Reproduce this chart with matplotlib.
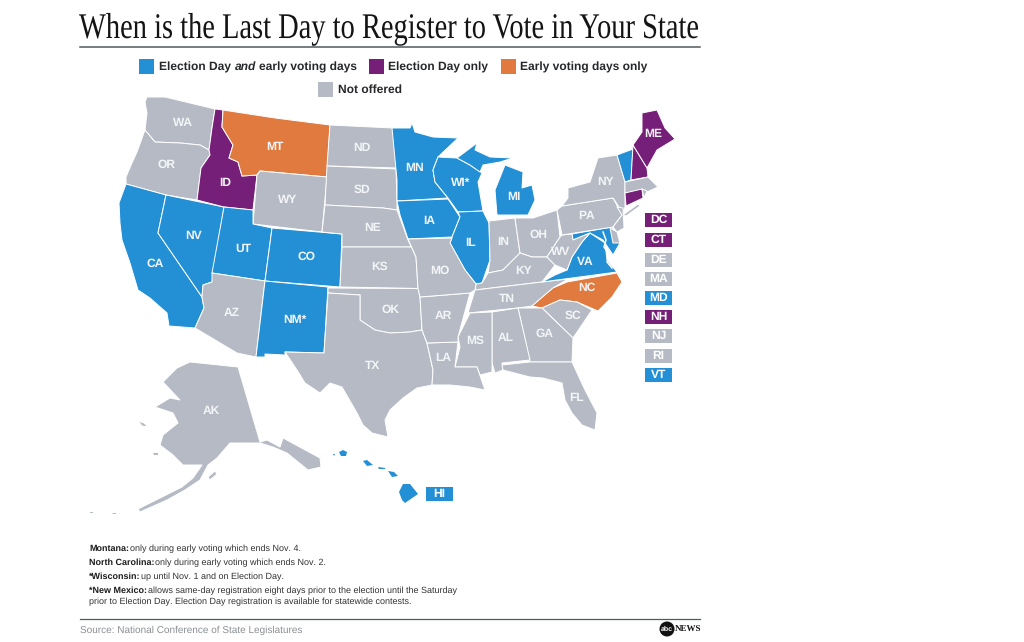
import matplotlib
matplotlib.use("Agg")
import matplotlib.pyplot as plt
from matplotlib.patches import Polygon, Rectangle, Circle
from matplotlib.patheffects import AbstractPathEffect
from matplotlib.transforms import Affine2D

TITLE = "When is the Last Day to Register to Vote in Your State"
SOURCE = "Source: National Conference of State Legislatures"

BOTH = ["CA","NV","UT","CO","NM","MN","IA","WI","IL","MI","VA","MD","VT","HI"]
ELECTION_ONLY = ["ID","ME","NH","CT"]
EARLY_ONLY = ["MT","NC"]
NOT_OFFERED = ["WA","OR","AZ","WY","ND","SD","NE","KS","OK","TX","MO","AR","LA","MS","AL","GA","FL","SC",
               "TN","KY","IN","OH","WV","PA","NY","NJ","DE","MA","RI","AK"]
SIDE_LIST = ["DC","CT","DE","MA","MD","NH","NJ","RI","VT"]
SIDE_KIND = ["E","E","N","N","B","E","N","N","B"]

COLORS = {"B":"#2390d6","E":"#761f78","L":"#e07a3f","N":"#b5bac4"}

OUTLINES = {
"WA":[[(145,102),(147,97),(165,97),(190,103),(215,109),(212,128),(209,150),(200,145),(180,143),(155,142),(145,130),(147,113)]],
"OR":[[(145,130),(155,142),(180,143),(200,145),(209,150),(210,155),(201,168),(197,200),(166,195),(126,184),(126,177),(132,163),(137,152)]],
"CA":[[(126,184),(166,195),(158,233),(180,265),(202,297),(204,308),(195,328),(169,326),(167,313),(150,298),(138,290),(130,263),(122,240),(120,223),(119,203)]],
"NV":[[(166,195),(224,207),(212,282),(203,285),(202,297),(180,265),(158,233)]],
"ID":[[(215,109),(223,110),(222,127),(233,145),(229,158),(238,162),(242,176),(257,175),(253,210),(224,207),(197,200),(201,168),(210,155),(209,150),(212,128)]],
"MT":[[(223,110),(275,118),(330,125),(327,177),(260,171),(257,175),(242,176),(238,162),(229,158),(233,145),(222,127)]],
"WY":[[(260,171),(327,177),(322,232),(253,224),(257,175)]],
"UT":[[(224,207),(253,210),(253,224),(272,228),(265,281),(212,273)]],
"AZ":[[(212,273),(265,281),(256,357),(237,353),(195,328),(204,308),(202,297),(203,285),(212,282)]],
"CO":[[(272,228),(342,234),(340,287),(265,281)]],
"NM":[[(265,281),(328,287),(324,353),(285,352),(285,355),(265,354),(265,357),(256,357)]],
"ND":[[(330,125),(393,128),(397,168),(327,166)]],
"SD":[[(327,166),(396,169),(397,202),(397,210),(383,208),(325,205)]],
"NE":[[(325,205),(383,208),(397,210),(408,240),(411.5,247),(342,247),(342,234),(322,232)]],
"KS":[[(342,247),(411.5,247),(416,257),(418,288.5),(340,287)]],
"OK":[[(328,288),(418,288.5),(420,297),(422,330),(410,332),(390,333),(375,330),(360,320),(360,295),(328,293)]],
"TX":[[(328,293),(360,295),(360,320),(375,330),(390,333),(410,332),(422,330),(427,343),(433,370),(432,385),(417,388),(403,398),(390,410),(385,420),(388,437),(372,433),(363,425),(357,413),(342,387),(330,383),(320,393),(305,383),(297,370),(285,352),(324,353)]],
"MN":[[(392,128),(410,128),(412,123),(415,132),(433,137),(458,138),(438,157),(433,170),(435,182),(448,198),(397,201),(397,180)]],
"IA":[[(397,201),(448,199),(460,217),(452,237),(408,239),(400,215)]],
"WI":[[(438,157),(457,158),(470,165),(482,173),(478,182),(483,211),(458,212),(448,198),(435,182),(433,170)]],
"IL":[[(458,212),(483,211),(489,223),(490,260),(482,283),(476,284),(465,270),(450,243),(452,237),(460,217)]],
"MI":[[(497,215),(495,190),(505,165),(523,172),(522,188),(532,185),(535,200),(528,215)],
      [(457,158),(477,143),(475,150),(490,157),(513,158),(500,162),(483,165),(480,172),(470,165)]],
"IN":[[(489,221),(515,218),(520,253),(503,270),(488,273),(490,260)]],
"OH":[[(515,218),(533,218),(557,210),(560,237),(547,257),(532,257),(520,253)]],
"KY":[[(520,253),(532,257),(547,257),(555,265),(542,282),(475,290),(476,284),(482,283),(488,273),(503,270)]],
"TN":[[(475,290),(542,282),(568,279),(553,288),(532,306),(518,308),(468,313)]],
"VA":[[(542,282),(555,275),(567,270),(572,257),(582,242),(590,233),(605,243),(607,260),(617,272)]],
"MD":[[(572,234),(612,227),(620,243),(613,255),(603,240),(590,233),(573,240)]],
"WV":[[(560,237),(562,235),(572,234),(573,240),(590,233),(582,242),(572,257),(567,270),(555,265),(547,257)]],
"PA":[[(557,210),(562,206),(613,198),(622,215),(613,227),(562,235)]],
"NY":[[(562,206),(568,198),(568,188),(590,182),(598,158),(617,155),(625,182),(625,207),(623,213),(613,198)],
      [(623,215),(638,204),(640,206),(626,216)]],
"NJ":[[(617,207),(623,208),(624,228),(617,232),(613,227),(622,215)]],
"DE":[[(610,228),(617,232),(620,243),(613,243)]],
"VT":[[(617,155),(633,149),(631,180),(625,182)]],
"NH":[[(633,145),(647,168),(648,177),(631,180)]],
"ME":[[(633,145),(642,132),(642,113),(657,110),(665,128),(675,139),(657,150),(647,168)]],
"MA":[[(625,182),(648,177),(658,187),(647,192),(643,191),(625,193)]],
"CT":[[(625,193),(642,189),(643,198),(626,206)]],
"RI":[[(642,189),(647,191),(644,198)]],
"NC":[[(532,306),(553,288),(567,282),(617,273),(622,282),(612,297),(598,311),(577,302),(560,300),(542,308)]],
"SC":[[(542,308),(560,300),(577,302),(592,310),(573,338)]],
"GA":[[(518,308),(542,308),(573,338),(572,362),(530,362)]],
"AL":[[(492,312),(518,308),(530,360),(502,363),(503,370),(495,373),(492,363)]],
"MS":[[(470,313),(492,312),(492,372),(480,375),(477,367),(455,367),(460,347),(458,337)]],
"LA":[[(427,343),(458,342),(455,367),(477,367),(485,390),(470,387),(450,385),(432,385),(433,370)]],
"AR":[[(420,297),(470,293),(458,337),(458,342),(427,343),(422,330)]],
"MO":[[(408,239),(452,238),(450,243),(465,270),(476,284),(475,290),(470,293),(420,297),(418,288.5),(416,257)]],
"FL":[[(502,365),(530,362),(572,362),(585,390),(597,413),(595,430),(582,425),(572,413),(565,400),(562,383),(543,378),(530,377),(503,370)]],
"AK":[[(190,362),(238,367),(260,442),(267,440),(280,447),(283,438),(320,458),(321,467),(308,470),(287,453),(273,447),(260,443),(230,443),(217,458),(208,465),(200,480),(185,490),(167,500),(140,512),(138,509),(160,498),(182,487),(193,478),(202,465),(183,465),(173,455),(160,445),(163,435),(178,423),(173,413),(155,407),(170,398),(180,400),(163,382),(177,368)],
      [(208,477),(215,471),(217,474),(210,480)],[(138,421),(144,423),(148,427),(142,426)],
      [(152,452),(158,452),(158,455),(153,455)],[(111,512),(116,512),(116,514),(112,514)],[(89,511),(93,511),(93,513),(89,513)]],
"HI":[[(339,452),(343,450),(347,452),(346,456),(341,456)],[(333,454),(335,454),(334,456)],[(363,461),(367,460),(373,465),(367,466)],
      [(378,467),(385,468),(385,469),(379,469)],[(388,471),(394,472),(398,476),(392,477)],[(399,492),(403,484),(410,484),(418,494),(405,503),(402,500)]],
}

LABELS = {"WA":(183,123),"OR":(166,165),"CA":(155,264),"NV":(194,236),"ID":(225,183),"MT":(275,147),"WY":(288,200),
"UT":(243,249),"AZ":(232,313),"CO":(306,257),"NM":(295,320),"ND":(362,148),"SD":(362,190),"NE":(373,228),"KS":(380,267),
"OK":(390,310),"TX":(373,366),"MN":(415,168),"IA":(429,221),"WI":(461,183),"IL":(471,243),"MI":(514,197),"IN":(503,242),
"OH":(538,235),"KY":(524,271),"TN":(507,299),"VA":(585,262),"WV":(561,252),"PA":(587,216),"NY":(606,182),"ME":(653,134),
"NC":(587,288),"SC":(573,316),"GA":(545,334),"AL":(506,338),"MS":(475,341),"LA":(443,358),"AR":(443,316),"MO":(440,271),
"FL":(577,398),"AK":(211,411)}
LABEL_TEXT = {"WI":"WI*","NM":"NM*"}

NOTES_LINE1 = ("Montana:", "only during early voting which ends Nov. 4.")
NOTES_LINE2 = ("North Carolina:", "only during early voting which ends Nov. 2.")
NOTES_LINE3 = ("*Wisconsin:", "up until Nov. 1 and on Election Day.")
NOTES_LINE4 = ("*New Mexico:", "allows same-day registration eight days prior to the election until the Saturday")
NOTES_LINE5 = "prior to Election Day. Election Day registration is available for statewide contests."

plt.rcParams['font.family'] = ['Liberation Sans']
plt.rcParams['text.hinting'] = 'none'
plt.rcParams['text.hinting_factor'] = 1
fig = plt.figure(figsize=(10.24, 6.42), dpi=100, facecolor="white")
ax = fig.add_axes([0, 0, 1, 1])
ax.set_xlim(0, 1024); ax.set_ylim(642, 0); ax.axis("off")

class Condense(AbstractPathEffect):
    def __init__(self, sx, x0):
        self.sx, self.x0 = sx, x0
    def draw_path(self, renderer, gc, tpath, affine, rgbFace=None):
        a = affine + Affine2D().translate(-self.x0, 0).scale(self.sx, 1).translate(self.x0, 0)
        renderer.draw_path(gc, tpath, a, rgbFace)

kind = {}
for k, group in (("B", BOTH), ("E", ELECTION_ONLY), ("L", EARLY_ONLY), ("N", NOT_OFFERED)):
    for s in group:
        kind[s] = k

for s, rings in OUTLINES.items():
    lw = 0 if s == "HI" else 0.7
    for r in rings:
        ax.add_patch(Polygon(r, closed=True, facecolor=COLORS[kind[s]], edgecolor="white" if lw else "none", linewidth=lw, joinstyle="round"))

# Chesapeake Bay
ax.plot([603, 606, 604, 609, 607, 612], [232, 240, 247, 254, 262, 268], color="white", lw=1.1, zorder=3)

for s, (x, y) in LABELS.items():
    ax.text(x, y, LABEL_TEXT.get(s, s), color="#f4f5f7", fontsize=8.6, fontweight="bold", ha="center", va="center", zorder=5)

# side list
SIDE_Y = [220, 240, 260, 279, 298, 317, 336, 356, 375]
for name, k, y in zip(SIDE_LIST, SIDE_KIND, SIDE_Y):
    ax.add_patch(Rectangle((645, y-7), 27, 14, facecolor=COLORS[k], edgecolor="none"))
    ax.text(658.5, y, name, color="white", fontsize=8.6, fontweight="bold", ha="center", va="center")
ax.add_patch(Rectangle((426, 487), 27, 14, facecolor=COLORS["B"], edgecolor="none"))
ax.text(439.5, 494, "HI", color="white", fontsize=8.6, fontweight="bold", ha="center", va="center")

# title
ax.text(79, 38, TITLE, family="Liberation Serif", fontsize=26, color="#141414", ha="left", va="baseline",
        path_effects=[Condense(0.788, 79)])
ax.plot([80, 700], [46.5, 46.5], color="#55585c", lw=1.1)

# legend
LEG = dict(fontsize=8.5, fontweight="bold", color="#26282b", va="center", ha="left")
for x, y, k in [(139, 59, "B"), (369, 59, "E"), (501, 59, "L"), (318, 82, "N")]:
    ax.add_patch(Rectangle((x, y), 15, 15, facecolor=COLORS[k], edgecolor="none"))
ax.text(159, 67, "Election Day", **LEG)
ax.text(235, 67, "and", style="italic", **LEG)
ax.text(259, 67, "early voting days", **LEG)
ax.text(388, 67, "Election Day only", **LEG)
ax.text(520, 67, "Early voting days only", **LEG)
ax.text(338, 90, "Not offered", **LEG)

# notes
NB = dict(fontsize=6.4, fontweight="bold", color="#1c1c1c", va="center", ha="left")
NR = dict(fontsize=6.4, color="#333333", va="center", ha="left")
notes = [(548.5, NOTES_LINE1, 130), (563, NOTES_LINE2, 155), (577, NOTES_LINE3, 141), (591, NOTES_LINE4, 148)]
for y, (b, r), xr in notes:
    ax.text(89, y, b, **NB)
    ax.text(xr, y, r, **NR)
ax.text(89, 602, NOTES_LINE5, **NR)

ax.plot([80, 700], [619, 619], color="#55585c", lw=0.9)
ax.text(80, 630.5, SOURCE, fontsize=7.45, color="#8b8f94", va="center", ha="left")

# logo
ax.add_patch(Circle((667, 629), 7.5, facecolor="#111111", edgecolor="none"))
ax.text(667, 629, "abc", color="white", fontsize=5, fontweight="bold", ha="center", va="center")
ax.text(675, 629.5, "NEWS", family="Liberation Serif", color="#111111", fontsize=6.8, fontweight="bold", ha="left", va="center")

fig.savefig("out.png", dpi=100, facecolor="white")
